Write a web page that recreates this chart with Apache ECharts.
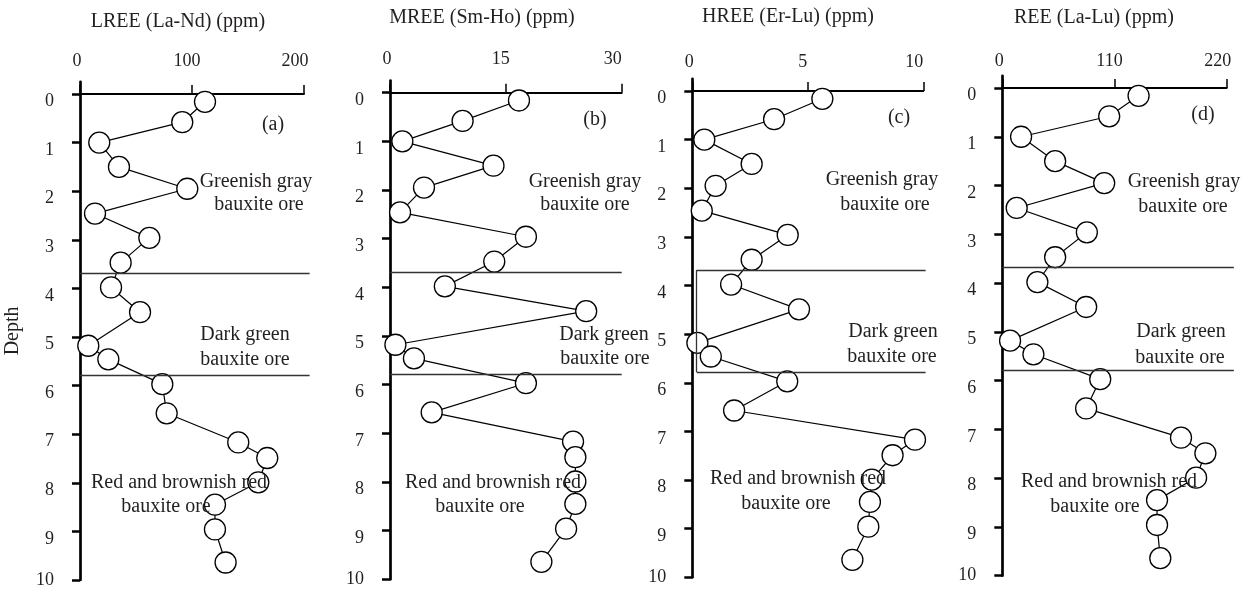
<!DOCTYPE html>
<html>
<head>
<meta charset="utf-8">
<script src="https://cdn.jsdelivr.net/npm/echarts@6/dist/echarts.min.js"></script>
<style>
  html, body { margin: 0; padding: 0; background: #fff; }
  #chart { width: 1256px; height: 591px; }
</style>
</head>
<body>
<div id="chart"></div>
<script>
// Sample depths shared by the four profiles
const depth = [0.16, 0.58, 1.0, 1.5, 1.95, 2.46, 2.96, 3.47, 3.98, 4.49,
               5.18, 5.46, 5.97, 6.57, 7.17, 7.49, 7.99, 8.45, 8.96, 9.64];

// Element group sums (ppm)
const lree = [111.6, 91.3, 17.2, 34.8, 95.8, 13.4, 61.9, 36.3, 27.7, 53.6,
              7.4, 25.3, 73.5, 77.4, 141.3, 167.2, 159.2, 120.5, 120.5, 130.0];
const mree = [16.7, 9.4, 1.6, 13.4, 4.4, 1.3, 17.6, 13.5, 7.1, 25.4,
              0.7, 3.1, 17.6, 5.4, 23.7, 24.0, 24.0, 24.0, 22.8, 19.6];
const hree = [5.63, 3.54, 0.52, 2.57, 1.01, 0.41, 4.13, 2.57, 1.68, 4.62,
              0.22, 0.80, 4.11, 1.81, 9.64, 8.67, 7.77, 7.69, 7.62, 6.93];
const ree  = [133.6, 104.8, 18.4, 51.8, 99.9, 14.1, 82.9, 51.8, 34.4, 82.2,
              7.6, 30.5, 96.0, 82.2, 175.2, 199.1, 190.0, 151.7, 151.7, 154.9];

// Tick labels
const lreeTicks = [0, 100, 200];
const mreeTicks = [0, 15, 30];
const hreeTicks = [0, 5, 10];
const reeTicks = [0, 110, 220];
const depthTicks = [0, 1, 2, 3, 4, 5, 6, 7, 8, 9, 10];

// Ore layer boundaries (depth)
const layerBounds = [3.68, 5.78];

// Text
const titles = ['LREE (La-Nd) (ppm)', 'MREE (Sm-Ho) (ppm)', 'HREE (Er-Lu) (ppm)', 'REE (La-Lu) (ppm)'];
const tags = ['(a)', '(b)', '(c)', '(d)'];
const layerNames = [['Greenish gray', 'bauxite ore'], ['Dark green', 'bauxite ore'], ['Red and brownish red', 'bauxite ore']];

const FONT = '"Liberation Serif", "Times New Roman", serif';
const INK = '#231f20';
const depthTop = -0.25;

// Panel layout
const panels = [
  { values: lree, ticks: lreeTicks, left: 80, width: 224, y0: 94, y10: 580, lineEnd: 205, boxEdge: null, xMargin: 12,
    title: [178, 22], tag: [273, 125], t1: [[256, 182], [259, 205]], t2: [[245, 335], [245, 360]], t3: [[179, 483], [166, 507]] },
  { values: mree, ticks: mreeTicks, left: 390, width: 231.7, y0: 92.7, y10: 579.3, lineEnd: 30, boxEdge: null, xMargin: 12,
    title: [482, 18], tag: [595, 120], t1: [[585, 182], [585, 205]], t2: [[604, 335], [605, 359]], t3: [[493, 483], [480, 507]] },
  { values: hree, ticks: hreeTicks, left: 692.3, width: 231, y0: 91, y10: 577.3, lineEnd: 10.1, boxEdge: 0.19, xMargin: 8,
    title: [788, 17], tag: [899, 118], t1: [[882, 180], [885, 205]], t2: [[893, 332], [892, 357]], t3: [[798, 479], [786, 504]] },
  { values: ree, ticks: reeTicks, left: 1002.3, width: 224.4, y0: 88, y10: 575.7, lineEnd: 227, boxEdge: null, xMargin: 6,
    title: [1094, 18], tag: [1203, 115], t1: [[1184, 182], [1183, 207]], t2: [[1181, 332], [1180, 358]], t3: [[1109, 482], [1095, 507]] }
];

const grids = [], xAxes = [], yAxes = [], series = [], texts = [];

function txt(pos, str) {
  texts.push({
    type: 'text', x: pos[0], y: pos[1], z: 100,
    style: { text: str, fontSize: 20, fontFamily: FONT, fill: INK, textAlign: 'center', textVerticalAlign: 'middle' }
  });
}

const n = panels.length;
const lastDepth = depthTicks[depthTicks.length - 1];

panels.forEach((p, i) => {
  const unit = (p.y10 - p.y0) / 10;
  const top = p.y0 + depthTop * unit;
  const xMax = p.ticks[p.ticks.length - 1];
  grids[i] = { left: p.left, width: p.width, top: top, height: p.y10 - top, containLabel: false, outerBoundsMode: 'none' };
  // wider companion grid (same scale) carrying the layer boundary lines
  grids[n + i] = { left: p.left, width: p.width * p.lineEnd / xMax, top: top, height: p.y10 - top, containLabel: false, outerBoundsMode: 'none' };

  const rich = {};
  [6, 10, 18].forEach((pad, k) => {
    rich['p' + k] = { fontSize: 18, fontFamily: FONT, color: INK, padding: [0, pad, 0, 0] };
  });

  xAxes[i] = {
    type: 'value', gridIndex: i, position: 'top',
    min: p.ticks[0], max: xMax, interval: p.ticks[1] - p.ticks[0],
    axisLine: { show: true, onZero: true, lineStyle: { color: '#000', width: 1.8 } },
    axisTick: { show: true, length: 9, lineStyle: { color: '#000', width: 1.5 } },
    axisLabel: {
      margin: p.xMargin, fontSize: 18, fontFamily: FONT, color: INK,
      formatter: (v, idx) => '{p' + idx + '|' + v + '}', rich: rich
    },
    splitLine: { show: false }
  };
  xAxes[n + i] = { type: 'value', gridIndex: n + i, min: 0, max: p.lineEnd, show: false };

  yAxes[i] = {
    type: 'value', gridIndex: i, inverse: true, min: depthTop, max: 10,
    name: i === 0 ? 'Depth' : '', nameLocation: 'middle', nameGap: 57, nameRotate: 90,
    nameTextStyle: { fontSize: 20, fontFamily: FONT, color: INK },
    axisLine: { show: true, onZero: false, lineStyle: { color: '#000', width: 2.7 } },
    axisTick: { show: true, length: 8, customValues: depthTicks, lineStyle: { color: '#000', width: 2.5 } },
    axisLabel: {
      margin: 26, fontSize: 18, fontFamily: FONT, color: INK, customValues: depthTicks,
      formatter: v => (v === lastDepth ? '{e|' : '{d|') + v + '}',
      rich: {
        d: { fontSize: 18, fontFamily: FONT, color: INK, padding: [15, 0, 0, 0] },
        e: { fontSize: 18, fontFamily: FONT, color: INK }
      }
    },
    splitLine: { show: false }
  };
  yAxes[n + i] = { type: 'value', gridIndex: n + i, inverse: true, min: depthTop, max: 10, show: false };

  // Ore layer boundaries
  const x0 = p.boxEdge === null ? 0 : p.boxEdge;
  const segs = layerBounds.map(d => [{ coord: [x0, d] }, { coord: [p.lineEnd, d] }]);
  if (p.boxEdge !== null) segs.push([{ coord: [x0, layerBounds[0]] }, { coord: [x0, layerBounds[1]] }]);
  series.push({
    type: 'line', xAxisIndex: n + i, yAxisIndex: n + i, data: [], z: 1, silent: true,
    markLine: { silent: true, symbol: 'none', label: { show: false },
      lineStyle: { color: '#333', width: 1.3, type: 'solid' }, data: segs }
  });

  // Profile
  series.push({
    type: 'line', xAxisIndex: i, yAxisIndex: i, z: 3, clip: false,
    data: p.values.map((v, k) => [v, depth[k]]),
    symbol: 'circle', symbolSize: 21, showAllSymbol: true,
    lineStyle: { color: '#000', width: 1.2 },
    itemStyle: { color: '#fff', borderColor: '#000', borderWidth: 1.3 }
  });

  txt(p.title, titles[i]);
  txt(p.tag, tags[i]);
  [p.t1, p.t2, p.t3].forEach((pos, k) => {
    txt(pos[0], layerNames[k][0]);
    txt(pos[1], layerNames[k][1]);
  });
});

const chart = echarts.init(document.getElementById('chart'), null, { renderer: 'canvas' });
chart.setOption({
  animation: false,
  backgroundColor: '#fff',
  grid: grids,
  xAxis: xAxes,
  yAxis: yAxes,
  series: series,
  graphic: { elements: texts }
});
</script>
</body>
</html>
